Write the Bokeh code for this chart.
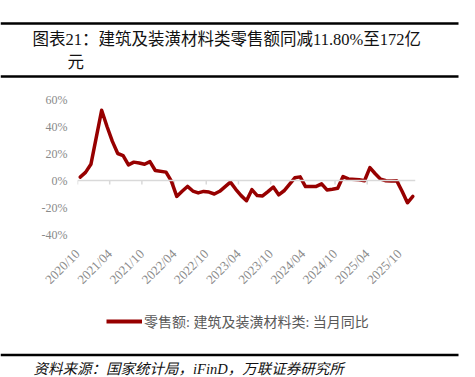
import math
from bokeh.plotting import figure
from bokeh.models import (Range1d, FixedTicker, Span, Label, Legend, LegendItem,
                          ColumnDataSource, Column)
from bokeh.embed import file_html
from bokeh.resources import INLINE

# ---------------- data ----------------
months = [
    "2020-10", "2020-11", "2020-12",
    "2021-02", "2021-03", "2021-04", "2021-05", "2021-06", "2021-07", "2021-08", "2021-09", "2021-10", "2021-11", "2021-12",
    "2022-02", "2022-03", "2022-04", "2022-05", "2022-06", "2022-07", "2022-08", "2022-09", "2022-10", "2022-11", "2022-12",
    "2023-02", "2023-03", "2023-04", "2023-05", "2023-06", "2023-07", "2023-08", "2023-09", "2023-10", "2023-11", "2023-12",
    "2024-02", "2024-03", "2024-04", "2024-05", "2024-06", "2024-07", "2024-08", "2024-09", "2024-10", "2024-11", "2024-12",
    "2025-02", "2025-03", "2025-04", "2025-05", "2025-06", "2025-07", "2025-08", "2025-09", "2025-10", "2025-11", "2025-12",
]
yoy = [
    2.5, 6.0, 12.0,
    52.0, 40.0, 29.0, 20.0, 18.5, 11.6, 13.6, 13.0, 12.0, 14.0, 7.4,
    6.2, -0.5, -11.8, -8.0, -4.4, -7.8, -9.2, -8.1, -8.6, -10.0, -8.0,
    -1.2, -6.5, -11.2, -15.0, -6.8, -11.2, -11.4, -8.2, -4.8, -10.6, -7.6,
    2.0, 2.7, -4.5, -4.5, -4.4, -2.5, -7.0, -6.5, -5.8, 2.9, 1.2,
    0.6, -0.2, 9.6, 5.0, 1.0, -0.2, -0.4, -0.2, -8.0, -16.5, -11.8,
]
x_tick_labels = ["2020/10", "2021/04", "2021/10", "2022/04", "2022/10", "2023/04",
                 "2023/10", "2024/04", "2024/10", "2025/04", "2025/10"]
y_ticks = [-40, -20, 0, 20, 40, 60]
y_tick_labels = ["-40%", "-20%", "0%", "20%", "40%", "60%"]

series_name = "零售额: 建筑及装潢材料类: 当月同比"
title_line1 = "图表21：建筑及装潢材料类零售额同减11.80%至172亿"
title_line2 = "元"
source_text = "资料来源：国家统计局，iFinD，万联证券研究所"

START_YEAR, START_MONTH = 2020, 10


def month_index(s):
    y, m = map(int, s.replace("/", "-").split("-"))
    return (y - START_YEAR) * 12 + (m - START_MONTH)


# date axis, points centred in their month ("between tick marks")
xs = [month_index(m) + 0.5 for m in months]
x_ticks = [month_index(t) for t in x_tick_labels]
x_end = month_index(months[-1]) + 1

W = 475
HEADER_H, MAIN_H = 80, 220
FOOTER_H = 377 - HEADER_H - MAIN_H

LINE_COLOR = "#970000"
AXIS_TEXT = "#8a8a8a"
LATIN = "Liberation Serif"
MIXED = "Liberation Serif, Noto Sans CJK SC"


def blank(h):
    f = figure(width=W, height=h, output_backend="svg", toolbar_location=None,
               x_range=Range1d(0, W), y_range=Range1d(h, 0),
               x_axis_type=None, y_axis_type=None, min_border=0)
    f.outline_line_color = None
    f.xgrid.visible = False
    f.ygrid.visible = False
    return f


# ---------------- header ----------------
header = blank(HEADER_H)
header.segment(x0=[0, 0], y0=[23, 76], x1=[458, 458], y1=[23, 76],
               line_color="black", line_width=2.5)
header.add_layout(Label(x=32, y=38.5, text=title_line1, text_font=MIXED,
                        text_font_size="16.5px", text_color="#111111",
                        text_baseline="middle"))
header.add_layout(Label(x=67, y=61.5, text=title_line2, text_font=MIXED,
                        text_font_size="16.5px", text_color="#111111",
                        text_baseline="middle"))

# ---------------- main chart ----------------
p = figure(width=W, height=MAIN_H, output_backend="svg", toolbar_location=None,
           x_range=Range1d(0, x_end), y_range=Range1d(-40, 60),
           min_border_left=77, min_border_right=60, min_border_top=19, min_border_bottom=66)
p.outline_line_color = None
p.xgrid.visible = False
p.ygrid.visible = False

p.yaxis.ticker = FixedTicker(ticks=y_ticks)
p.yaxis.major_label_overrides = {t: l for t, l in zip(y_ticks, y_tick_labels)}
p.yaxis.axis_line_color = None
p.yaxis.major_tick_line_color = None
p.yaxis.minor_tick_line_color = None
p.yaxis.major_tick_out = 0
p.yaxis.major_tick_in = 0
p.yaxis.major_label_standoff = 10
p.yaxis.major_label_text_font = LATIN
p.yaxis.major_label_text_font_size = "12px"
p.yaxis.major_label_text_color = AXIS_TEXT

p.xaxis.ticker = FixedTicker(ticks=x_ticks)
p.xaxis.major_label_overrides = {t: l for t, l in zip(x_ticks, x_tick_labels)}
p.xaxis.axis_line_color = None
p.xaxis.major_tick_line_color = None
p.xaxis.minor_tick_line_color = None
p.xaxis.major_tick_out = 0
p.xaxis.major_tick_in = 0
p.xaxis.major_label_standoff = 17
p.xaxis.major_label_orientation = math.pi / 4
p.xaxis.major_label_text_font = LATIN
p.xaxis.major_label_text_font_size = "13px"
p.xaxis.major_label_text_color = AXIS_TEXT

# zero line with its tick marks
p.add_layout(Span(location=0, dimension="width", line_color="#d9d9d9", line_width=1.5))
p.segment(x0=x_ticks, y0=[0] * len(x_ticks), x1=x_ticks, y1=[-3] * len(x_ticks),
          line_color="#d9d9d9", line_width=1.5)

src = ColumnDataSource(dict(x=xs, y=yoy))
p.line("x", "y", source=src, line_color=LINE_COLOR, line_width=3.5,
       line_join="round", line_cap="round")

# ---------------- footer: legend, rule, source ----------------
footer = blank(FOOTER_H)
# legend key: same style as the series, placed off-canvas so only the key shows
key = footer.line(x=[-30, -20], y=[-30, -30], line_color=LINE_COLOR, line_width=4)
legend = Legend(items=[LegendItem(label=series_name, renderers=[key])],
                location=(106, FOOTER_H - 31), orientation="horizontal",
                border_line_color=None, background_fill_alpha=0,
                padding=0, margin=0, glyph_width=36, glyph_height=20,
                label_standoff=2, label_text_font=MIXED, label_height=20,
                label_text_font_size="14px", label_text_color="#595959")
footer.add_layout(legend, "center")
footer.segment(x0=[0], y0=[54.5], x1=[458], y1=[54.5], line_color="black", line_width=2.5)
footer.add_layout(Label(x=33, y=68, text=source_text, text_font=MIXED,
                        text_font_size="14.5px", text_font_style="italic",
                        text_color="#111111", text_baseline="middle"))

# nest each figure in its own column so the frames are not aligned
layout = Column(children=[Column(children=[header]), Column(children=[p]),
                          Column(children=[footer])], spacing=0)
open("out.html", "w").write(file_html(layout, INLINE))
